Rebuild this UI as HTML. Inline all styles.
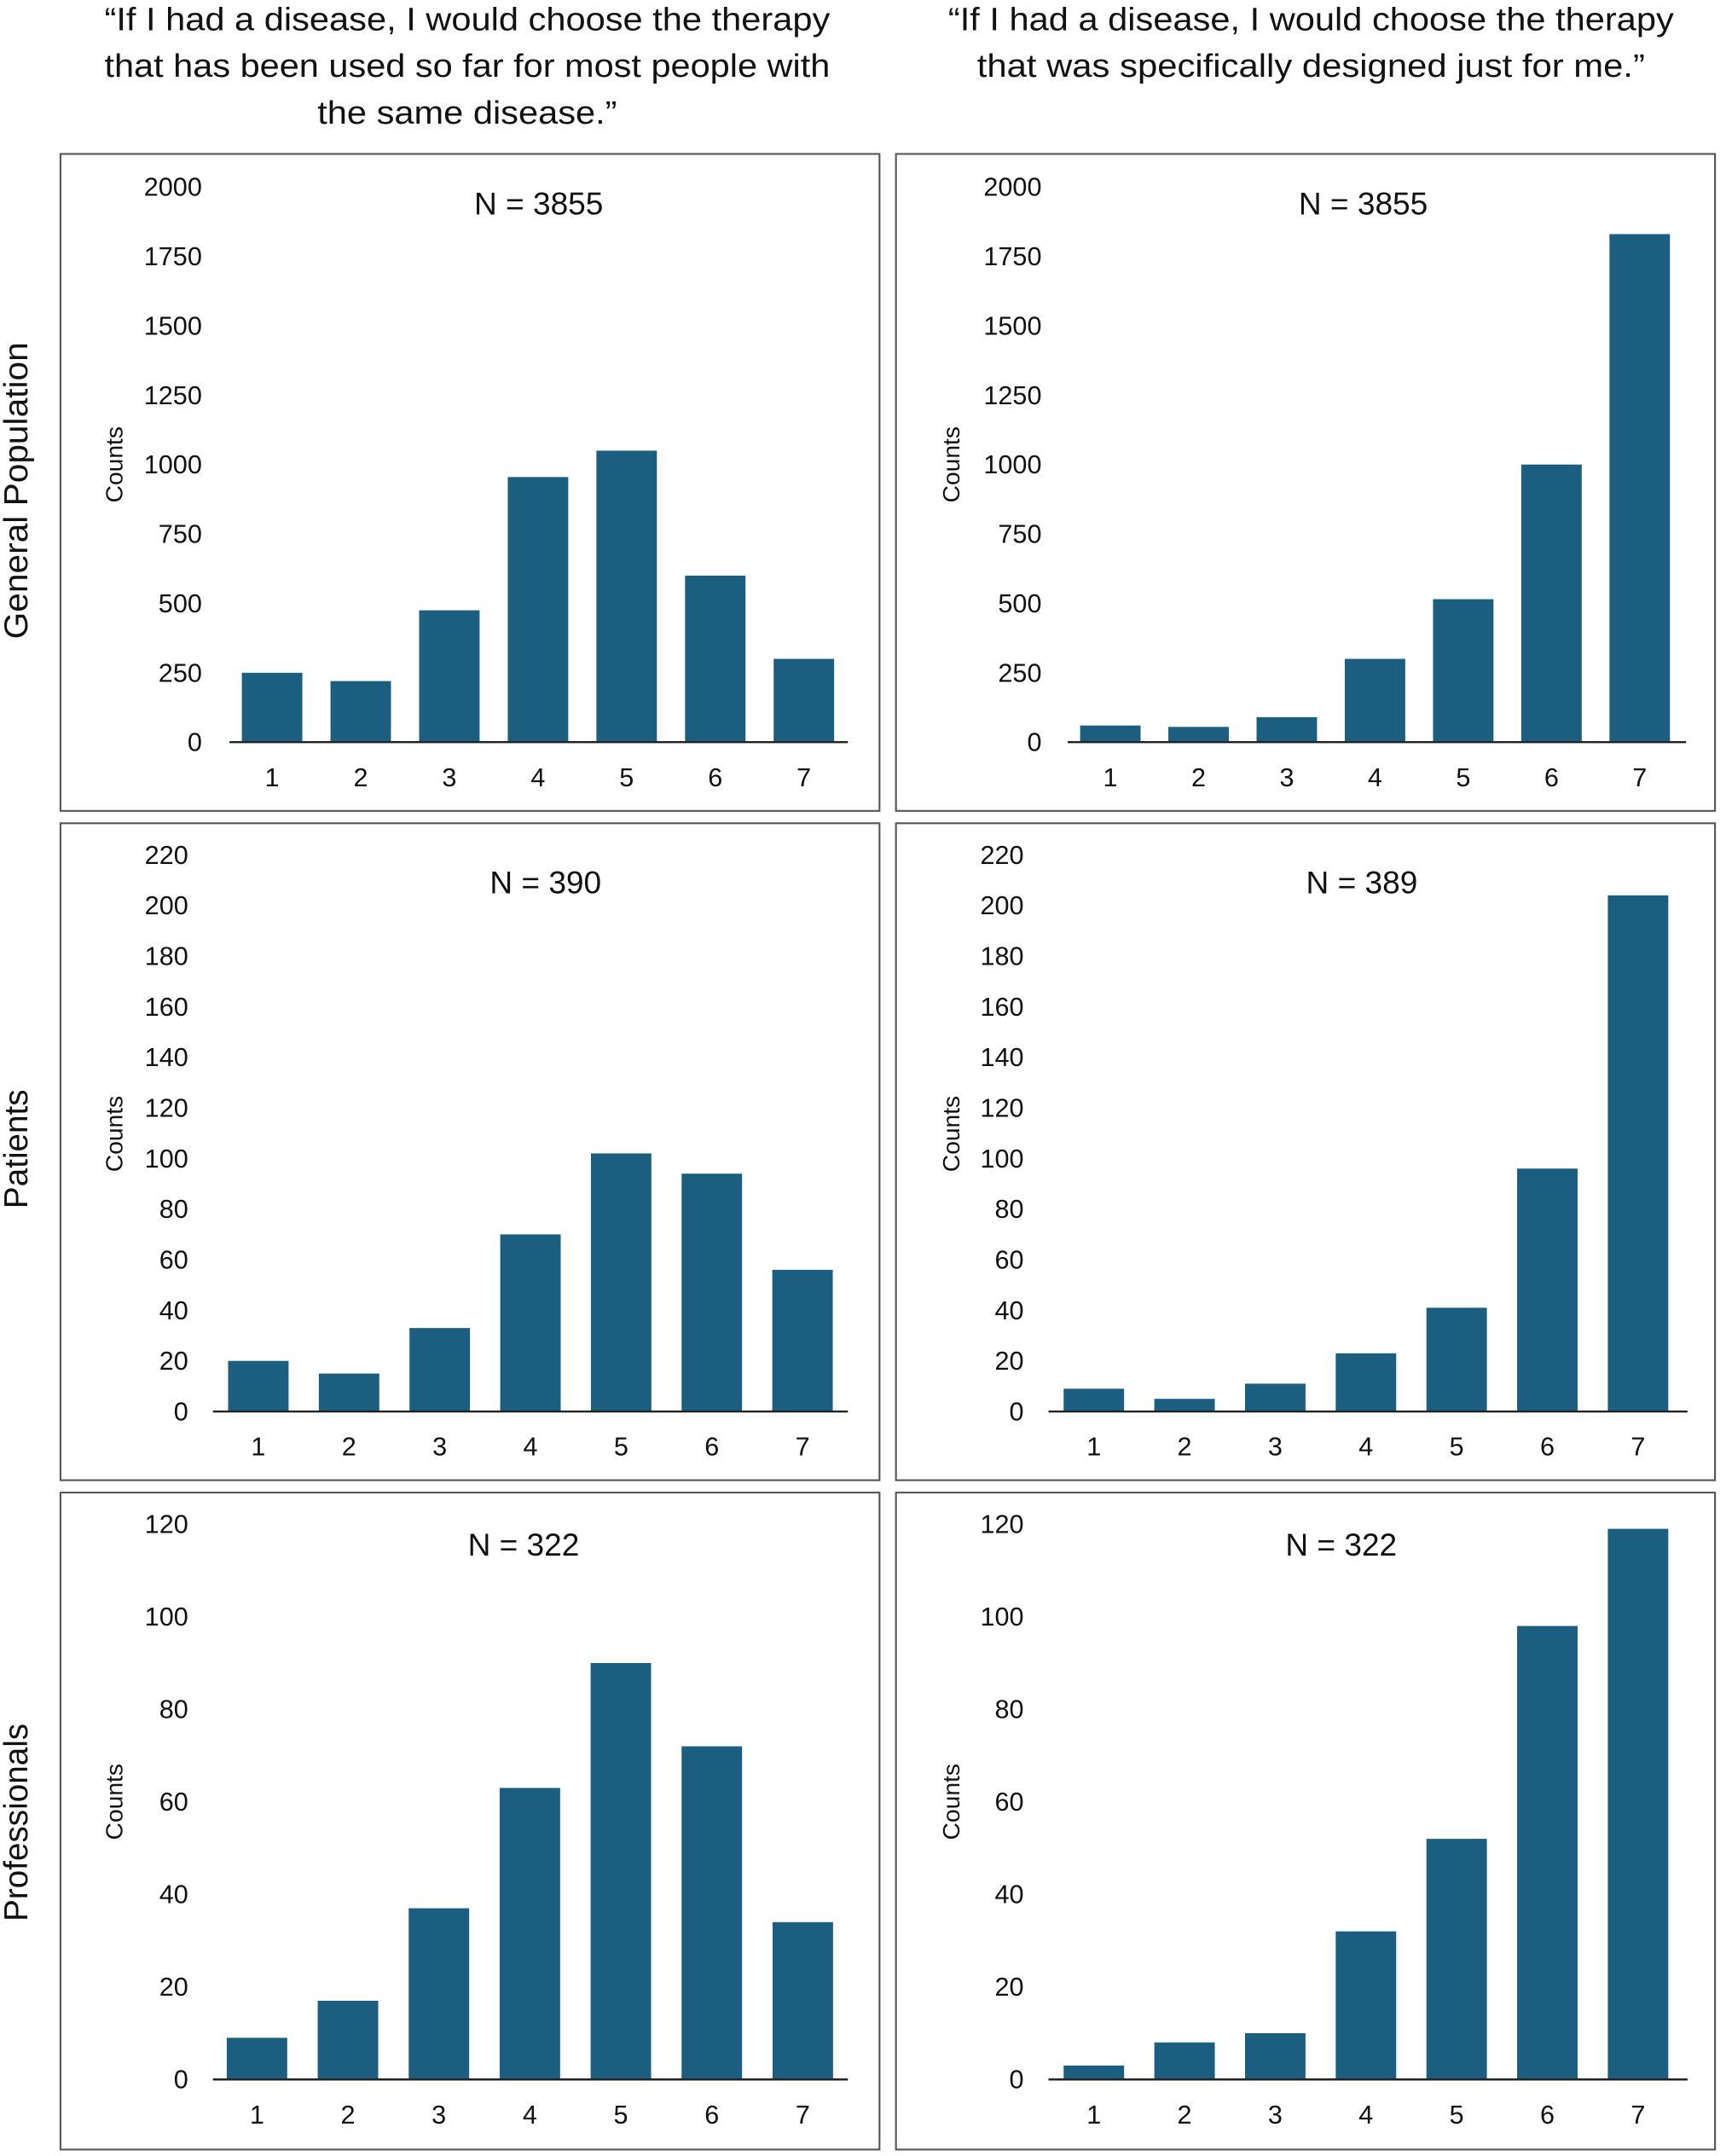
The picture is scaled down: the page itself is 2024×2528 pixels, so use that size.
<!DOCTYPE html>
<html><head><meta charset="utf-8"><style>
html,body{margin:0;padding:0;background:#fff;}
svg{display:block;}
text{font-family:"Liberation Sans",sans-serif;fill:#111;}
</style></head><body>
<svg id="fig" width="2024" height="2528" viewBox="0 0 1256 1568.7" preserveAspectRatio="none" xmlns="http://www.w3.org/2000/svg">
<g font-size="23.5" text-anchor="middle">
<text x="340" y="22" textLength="528" lengthAdjust="spacingAndGlyphs">“If I had a disease, I would choose the therapy</text>
<text x="340" y="56" textLength="528" lengthAdjust="spacingAndGlyphs">that has been used so far for most people with</text>
<text x="340" y="90" textLength="218" lengthAdjust="spacingAndGlyphs">the same disease.”</text>
</g>
<g font-size="23.5" text-anchor="middle">
<text x="954" y="22" textLength="528" lengthAdjust="spacingAndGlyphs">“If I had a disease, I would choose the therapy</text>
<text x="954" y="56" textLength="486" lengthAdjust="spacingAndGlyphs">that was specifically designed just for me.”</text>
</g>
<text font-size="24" text-anchor="middle" transform="translate(20,357) rotate(-90)" textLength="216" lengthAdjust="spacingAndGlyphs">General Population</text>
<text font-size="24" text-anchor="middle" transform="translate(20,836) rotate(-90)">Patients</text>
<text font-size="24" text-anchor="middle" transform="translate(20,1326) rotate(-90)">Professionals</text>
<g id="panels"></g>
</svg>
<script>
const categories = [1,2,3,4,5,6,7];
const genStandard = [250,220,475,955,1050,600,300];
const genPersonal = [60,55,90,300,515,1000,1830];
const patStandard = [20,15,33,70,102,94,56];
const patPersonal = [9,5,11,23,41,96,204];
const proStandard = [9,17,37,63,90,72,34];
const proPersonal = [3,8,10,32,52,98,119];
const nLabels = ["N = 3855","N = 3855","N = 390","N = 389","N = 322","N = 322"];
const ticksGen = [0,250,500,750,1000,1250,1500,1750,2000];
const ticksPat = [0,20,40,60,80,100,120,140,160,180,200,220];
const ticksPro = [0,20,40,60,80,100,120];

const NS="http://www.w3.org/2000/svg";
const root=document.getElementById('panels');
function mk(tag,attrs,parent){const e=document.createElementNS(NS,tag);for(const k in attrs)e.setAttribute(k,attrs[k]);parent.appendChild(e);return e;}

const panels=[
 {name:'general-standard',data:genStandard,ticks:ticksGen,n:0,bx:44,by:112,x0:167,x1:617,c0:198,step:64.5,y0:540,yt:136,tickR:147,cx:83,cy:338,nx:392,ny:156},
 {name:'general-personal',data:genPersonal,ticks:ticksGen,n:1,bx:652,by:112,x0:777,x1:1227,c0:808,step:64.2,y0:540,yt:136,tickR:758,cx:692,cy:338,nx:992,ny:156},
 {name:'patients-standard',data:patStandard,ticks:ticksPat,n:2,bx:44,by:599,x0:155,x1:617,c0:188,step:66,y0:1027,yt:622,tickR:137,cx:83,cy:825,nx:397,ny:650},
 {name:'patients-personal',data:patPersonal,ticks:ticksPat,n:3,bx:652,by:599,x0:763,x1:1228,c0:796,step:66,y0:1027,yt:622,tickR:745,cx:692,cy:825,nx:991,ny:650},
 {name:'professionals-standard',data:proStandard,ticks:ticksPro,n:4,bx:44,by:1086,x0:155,x1:617,c0:187,step:66.2,y0:1513,yt:1109,tickR:137,cx:83,cy:1311,nx:381,ny:1132},
 {name:'professionals-personal',data:proPersonal,ticks:ticksPro,n:5,bx:652,by:1086,x0:763,x1:1228,c0:796,step:66,y0:1513,yt:1109,tickR:745,cx:692,cy:1311,nx:976,ny:1132}
];
panels.forEach(p=>{
 const g=mk('g',{},root);
 
 
 const box=mk('rect',{x:p.bx,y:p.by,width:596,height:478,fill:'none',stroke:'#555','stroke-width':1.3},g);
 
 
 const max=p.ticks[p.ticks.length-1];
 const yS=v=>p.y0-(v/max)*(p.y0-p.yt);
 const xS=i=>p.c0+i*p.step;
 p.ticks.forEach(t=>{
  const tx=mk('text',{x:p.tickR,y:yS(t)+6.5,'font-size':19,'text-anchor':'end'},g);
  tx.textContent=t;
  
  
 });
 p.data.forEach((v,i)=>{
  const r=mk('rect',{x:xS(i)-22,y:yS(v),width:44,height:p.y0-yS(v),fill:'#1b5e80'},g);
  
  
  const lt=mk('text',{x:xS(i),y:p.y0+32,'font-size':19,'text-anchor':'middle'},g);
  lt.textContent=categories[i];
  
  
 });
 const ax=mk('line',{x1:p.x0,x2:p.x1,y1:p.y0,y2:p.y0,stroke:'#222','stroke-width':1.5},g);
 
 
 const yl=mk('text',{transform:`translate(${p.cx+6},${p.cy}) rotate(-90)`,'font-size':17.5,'text-anchor':'middle'},g);
 yl.textContent='Counts';
 
 
 const nt=mk('text',{x:p.nx,y:p.ny,'font-size':23,'text-anchor':'middle'},g);
 nt.textContent=nLabels[p.n];
 
 
});
</script>
</body></html>
